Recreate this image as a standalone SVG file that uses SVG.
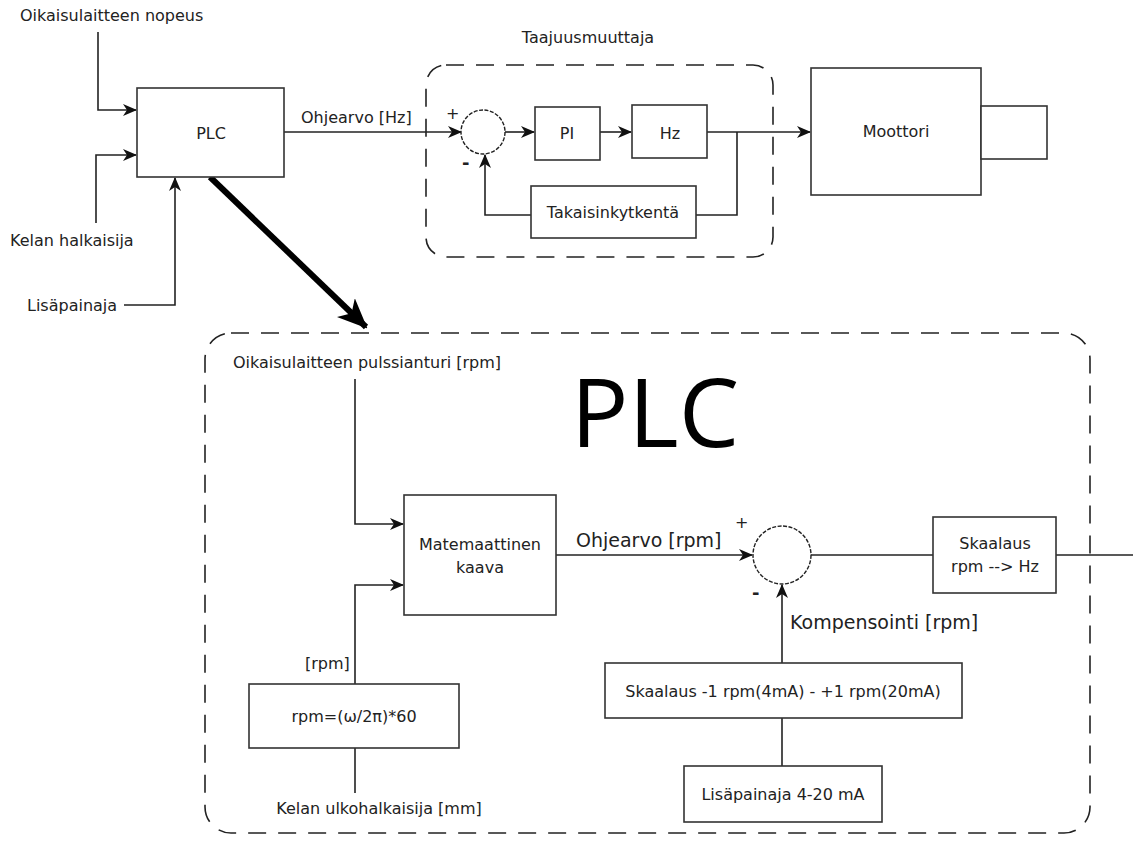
<svg xmlns="http://www.w3.org/2000/svg" width="1133" height="841" viewBox="0 0 1133 841">
<style>
  text { font-family: "DejaVu Sans", "Liberation Sans", sans-serif; fill: #222; }
  .t { font-size: 16px; }
  .m { font-size: 19px; }
  .box { fill: #fff; stroke: #333; stroke-width: 1.6; }
  .ln { fill: none; stroke: #222; stroke-width: 1.6; }
  .dash { fill: none; stroke: #222; stroke-width: 1.6; stroke-dasharray: 18 12; }
  .sum { fill: #fff; stroke: #222; stroke-width: 1.4; stroke-dasharray: 4 1.5; }
</style>
<defs>
  <marker id="ah" viewBox="0 0 14 12" refX="13" refY="6" markerWidth="14" markerHeight="12" markerUnits="userSpaceOnUse" orient="auto">
    <path d="M0,0 L14,6 L0,12 L4,6 z" fill="#111"/>
  </marker>
  <marker id="big" viewBox="0 0 30 26" refX="28" refY="13" markerWidth="30" markerHeight="26" markerUnits="userSpaceOnUse" orient="auto">
    <path d="M0,0 L30,13 L0,26 L8,13 z" fill="#000"/>
  </marker>
</defs>
<rect width="1133" height="841" fill="#fff"/>

<g id="connectors">
  <polyline class="ln" points="98,32 98,110 136,110" marker-end="url(#ah)"/>
  <polyline class="ln" points="96,223 96,155 136,155" marker-end="url(#ah)"/>
  <polyline class="ln" points="124,305 175,305 175,178" marker-end="url(#ah)"/>
  <line class="ln" x1="284" y1="132" x2="461" y2="132" marker-end="url(#ah)"/>
  <line class="ln" x1="505" y1="132" x2="534" y2="132" marker-end="url(#ah)"/>
  <line class="ln" x1="600" y1="132" x2="631" y2="132" marker-end="url(#ah)"/>
  <line class="ln" x1="707" y1="132" x2="810" y2="132" marker-end="url(#ah)"/>
  <polyline class="ln" points="737,132 737,215 696,215"/>
  <polyline class="ln" points="531,215 485,215 485,155" marker-end="url(#ah)"/>
  <line x1="210" y1="177" x2="366" y2="327" stroke="#000" stroke-width="6" marker-end="url(#big)"/>
  <polyline class="ln" points="355,379 355,524 403,524" marker-end="url(#ah)"/>
  <polyline class="ln" points="355,684 355,585 403,585" marker-end="url(#ah)"/>
  <line class="ln" x1="355" y1="748" x2="355" y2="793"/>
  <line class="ln" x1="556" y1="555" x2="752" y2="555" marker-end="url(#ah)"/>
  <line class="ln" x1="811" y1="555" x2="933" y2="555"/>
  <line class="ln" x1="1056" y1="555" x2="1133" y2="555"/>
  <line class="ln" x1="782" y1="663" x2="782" y2="585" marker-end="url(#ah)"/>
  <line class="ln" x1="782" y1="718" x2="782" y2="766"/>
</g>

<g id="labels">
  <text class="t" x="20" y="21">Oikaisulaitteen nopeus</text>
  <text class="t" x="10" y="246">Kelan halkaisija</text>
  <text class="t" x="27" y="311">Lisäpainaja</text>
  <text class="t" x="301" y="123">Ohjearvo [Hz]</text>
  <text class="t" x="446" y="119">+</text>
  <text x="462" y="169" style="font-size:18px;font-weight:bold">-</text>
  <text class="t" x="233" y="368">Oikaisulaitteen pulssianturi [rpm]</text>
  <text class="m" x="576" y="547">Ohjearvo [rpm]</text>
  <text class="t" x="735" y="528">+</text>
  <text x="752" y="599" style="font-size:18px;font-weight:bold">-</text>
  <text class="m" x="790" y="629">Kompensointi [rpm]</text>
  <text class="t" x="305" y="669">[rpm]</text>
  <text class="t" x="379" y="814" text-anchor="middle">Kelan ulkohalkaisija [mm]</text>
</g>

<g id="taajuusmuuttaja">
  <rect class="dash" x="426" y="65" width="347" height="192" rx="20"/>
  <text class="t" x="588" y="43" text-anchor="middle">Taajuusmuuttaja</text>
</g>

<g id="plc-group">
  <rect class="dash" x="205" y="333" width="885" height="500" rx="26"/>
  <text x="655" y="447" text-anchor="middle" style="font-family:'Open Sans','DejaVu Sans',sans-serif;font-size:96px;fill:#000">PLC</text>
</g>

<g id="plc">
  <rect class="box" x="137" y="88" width="147" height="89"/>
  <text class="t" x="211" y="139" text-anchor="middle">PLC</text>
</g>

<g id="sum1">
  <circle class="sum" cx="483" cy="132" r="22"/>
</g>

<g id="pi">
  <rect class="box" x="535" y="107" width="65" height="53"/>
  <text class="t" x="567" y="139" text-anchor="middle">PI</text>
</g>

<g id="hz">
  <rect class="box" x="632" y="105" width="75" height="53"/>
  <text class="t" x="670" y="139" text-anchor="middle">Hz</text>
</g>

<g id="takaisinkytkenta">
  <rect class="box" x="531" y="186" width="165" height="52"/>
  <text class="t" x="613" y="218" text-anchor="middle">Takaisinkytkentä</text>
</g>

<g id="moottori">
  <rect class="box" x="811" y="68" width="170" height="127"/>
  <rect class="box" x="981" y="106" width="66" height="53"/>
  <text class="t" x="896" y="137" text-anchor="middle">Moottori</text>
</g>

<g id="matemaattinen">
  <rect class="box" x="404" y="495" width="152" height="120"/>
  <text class="t" x="480" y="550" text-anchor="middle">Matemaattinen</text>
  <text class="t" x="480" y="573" text-anchor="middle">kaava</text>
</g>

<g id="rpm-kaava">
  <rect class="box" x="249" y="684" width="210" height="64"/>
  <text class="t" x="354" y="722" text-anchor="middle">rpm=(ω/2π)*60</text>
</g>

<g id="sum2">
  <circle class="sum" cx="782" cy="555" r="29"/>
</g>

<g id="skaalaus-hz">
  <rect class="box" x="933" y="517" width="123" height="76"/>
  <text class="t" x="995" y="549" text-anchor="middle">Skaalaus</text>
  <text class="t" x="995" y="572" text-anchor="middle">rpm --&gt; Hz</text>
</g>

<g id="skaalaus-ma">
  <rect class="box" x="605" y="663" width="357" height="55"/>
  <text class="t" x="783" y="697" text-anchor="middle">Skaalaus -1 rpm(4mA) - +1 rpm(20mA)</text>
</g>

<g id="lisapainaja">
  <rect class="box" x="684" y="766" width="198" height="56"/>
  <text class="t" x="783" y="800" text-anchor="middle">Lisäpainaja 4-20 mA</text>
</g>
</svg>
